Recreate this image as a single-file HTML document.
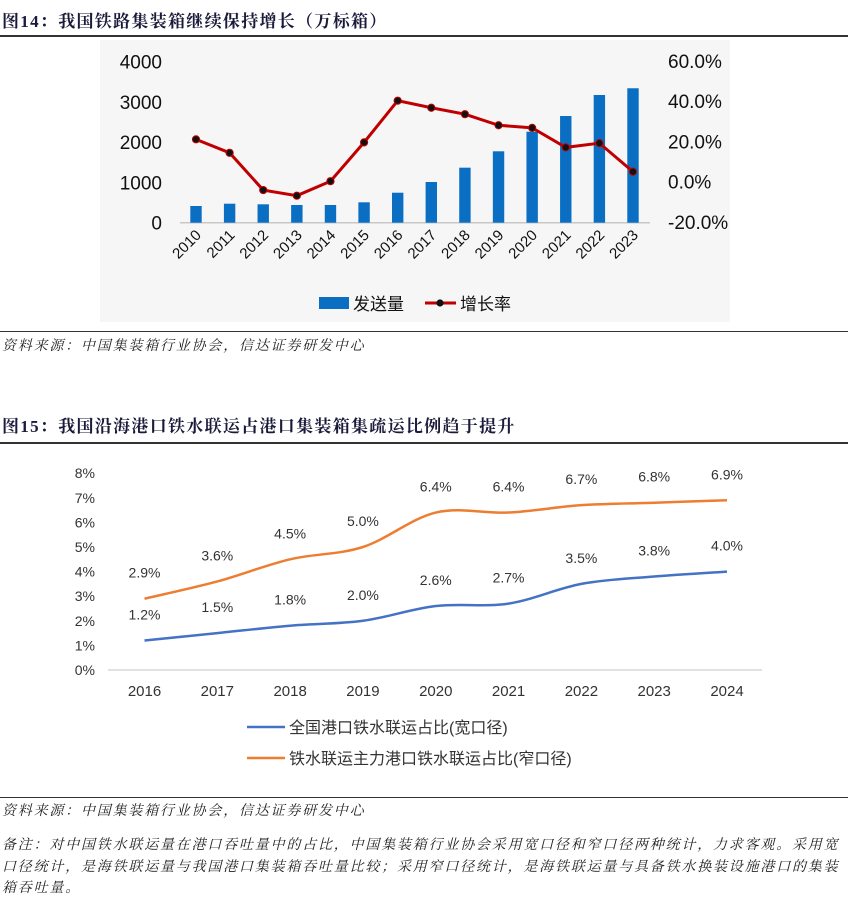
<!DOCTYPE html>
<html><head><meta charset="utf-8">
<style>
body{margin:0;background:#fff;width:867px;height:915px;position:relative;overflow:hidden;font-family:"Liberation Sans","Noto Sans CJK SC",sans-serif}
.title{position:absolute;left:2px;font-family:"Liberation Serif","Noto Serif CJK SC",serif;font-weight:bold;font-size:17px;letter-spacing:1.3px;color:#1a1a3a}
.rule{position:absolute;left:0;width:848px;background:#333}
.src{position:absolute;left:2px;font-family:"Liberation Serif","Noto Serif CJK SC",serif;font-style:italic;font-size:14px;letter-spacing:1.8px;color:#222}
</style></head><body>
<div class="title" style="top:7px">图14：我国铁路集装箱继续保持增长（万标箱）</div>
<div class="rule" style="top:35px;height:2px"></div>
<svg id="c1" style="position:absolute;left:0;top:0" width="867" height="330"></svg>
<div class="rule" style="top:331px;height:1px"></div>
<div class="src" style="top:335px">资料来源：中国集装箱行业协会，信达证券研发中心</div>
<div class="title" style="top:412px">图15：我国沿海港口铁水联运占港口集装箱集疏运比例趋于提升</div>
<div class="rule" style="top:442px;height:2px"></div>
<svg id="c2" style="position:absolute;left:0;top:0" width="867" height="800"></svg>
<div class="rule" style="top:797px;height:1px"></div>
<div class="src" style="top:800px">资料来源：中国集装箱行业协会，信达证券研发中心</div>
<div class="src" style="top:835px;width:850px;line-height:21.5px">备注：对中国铁水联运量在港口吞吐量中的占比，中国集装箱行业协会采用宽口径和窄口径两种统计，力求客观。采用宽口径统计，是海铁联运量与我国港口集装箱吞吐量比较；采用窄口径统计，是海铁联运量与具备铁水换装设施港口的集装箱吞吐量。</div>
<script>
const years1=["2010","2011","2012","2013","2014","2015","2016","2017","2018","2019","2020","2021","2022","2023"];
const volume=[415,472,457,440,440,507,745,1011,1367,1774,2261,2651,3173,3340];
const growth=[21.0,14.3,-4.2,-7.0,0.2,19.5,40.2,36.7,33.5,28.0,26.7,17.0,19.1,4.9];
const leftTicks=[0,1000,2000,3000,4000];
const rightTicks=[-20,0,20,40,60];
const years2=["2016","2017","2018","2019","2020","2021","2022","2023","2024"];
const wide=[1.2,1.5,1.8,2.0,2.6,2.7,3.5,3.8,4.0];
const narrow=[2.9,3.6,4.5,5.0,6.4,6.4,6.7,6.8,6.9];
const ticks2=[0,1,2,3,4,5,6,7,8];
const NS="http://www.w3.org/2000/svg";
function mk(svg,tag,at,txt){const e=document.createElementNS(NS,tag);for(const k in at)e.setAttribute(k,at[k]);if(txt!=null)e.textContent=txt;svg.appendChild(e);return e;}
const s1=document.getElementById('c1');
const bg=mk(s1,'rect',{x:100,y:40,width:630,height:282,fill:'#f6f6f6'});

const x1=i=>196+i*(633-196)/13;
const yL=v=>222.7-v*(222.7-61.7)/4000;
const yR=v=>181.6-v*(222.7-61.7)/80;
const ax=mk(s1,'line',{x1:180,x2:650,y1:222.7,y2:222.7,stroke:'#c8c8c8','stroke-width':1.5});

leftTicks.forEach(t=>{const e=mk(s1,'text',{x:162,y:yL(t)+7,'text-anchor':'end','font-size':19,fill:'#111'},t);
});
rightTicks.forEach(t=>{const e=mk(s1,'text',{x:668,y:yR(t)+7,'font-size':19,fill:'#111'},t.toFixed(1)+'%');
});
volume.forEach((v,i)=>{const e=mk(s1,'rect',{x:x1(i)-5.7,y:yL(v),width:11.4,height:yL(0)-yL(v),fill:'#0a6fc2'});
});
const pl=mk(s1,'polyline',{points:growth.map((g,i)=>x1(i)+','+yR(g)).join(' '),fill:'none',stroke:'#c00000','stroke-width':3});

growth.forEach((g,i)=>{const e=mk(s1,'circle',{cx:x1(i),cy:yR(g),r:3.6,fill:'#111',stroke:'#c00000','stroke-width':1});
});
years1.forEach((y,i)=>{const e=mk(s1,'text',{x:x1(i)+6,y:236,'text-anchor':'end','font-size':15,fill:'#111',transform:`rotate(-45 ${x1(i)+6} 236)`},y);
});
let e=mk(s1,'rect',{x:319,y:297,width:30,height:12,fill:'#0a6fc2'});
e=mk(s1,'text',{x:353,y:310,'font-size':17,fill:'#111'},'发送量');
e=mk(s1,'line',{x1:425,x2:456,y1:303,y2:303,stroke:'#c00000','stroke-width':3});
e=mk(s1,'circle',{cx:440,cy:303,r:3.6,fill:'#111'});
e=mk(s1,'text',{x:460,y:310,'font-size':17,fill:'#111'},'增长率');
const s2=document.getElementById('c2');
const x2=i=>144.5+i*(727-144.5)/8;
const y2=v=>670-v*24.6;
e=mk(s2,'line',{x1:108,x2:762,y1:670,y2:670,stroke:'#d9d9d9','stroke-width':1.5});
ticks2.forEach(t=>{const el=mk(s2,'text',{x:95,y:y2(t)+5,'text-anchor':'end','font-size':14,fill:'#333'},t+'%');
});
years2.forEach((y,i)=>{const el=mk(s2,'text',{x:x2(i),y:696,'text-anchor':'middle','font-size':15,fill:'#333'},y);
});
function smooth(vals){const p=vals.map((v,i)=>[x2(i),y2(v)]);let d='M'+p[0];
for(let i=0;i<p.length-1;i++){const a=p[i-1]||p[i],b=p[i],c=p[i+1],n=p[i+2]||c;
d+=` C${b[0]+(c[0]-a[0])/6},${b[1]+(c[1]-a[1])/6} ${c[0]-(n[0]-b[0])/6},${c[1]-(n[1]-b[1])/6} ${c[0]},${c[1]}`;}return d;}
[[wide,'#4472c4','wide'],[narrow,'#ed7d31','narrow']].forEach(([vals,col,nm])=>{
const p=mk(s2,'path',{d:smooth(vals),fill:'none',stroke:col,'stroke-width':2.5});

vals.forEach((v,i)=>{const t=mk(s2,'text',{x:x2(i),y:y2(v)-21,'text-anchor':'middle','font-size':14,fill:'#333'},v.toFixed(1)+'%');
});});
e=mk(s2,'line',{x1:247,x2:285,y1:727,y2:727,stroke:'#4472c4','stroke-width':2.5});
e=mk(s2,'text',{x:289,y:733,'font-size':16,fill:'#333'},'全国港口铁水联运占比(宽口径)');
e=mk(s2,'line',{x1:247,x2:285,y1:758,y2:758,stroke:'#ed7d31','stroke-width':2.5});
e=mk(s2,'text',{x:289,y:764,'font-size':16,fill:'#333'},'铁水联运主力港口铁水联运占比(窄口径)');
</script>
</body></html>
